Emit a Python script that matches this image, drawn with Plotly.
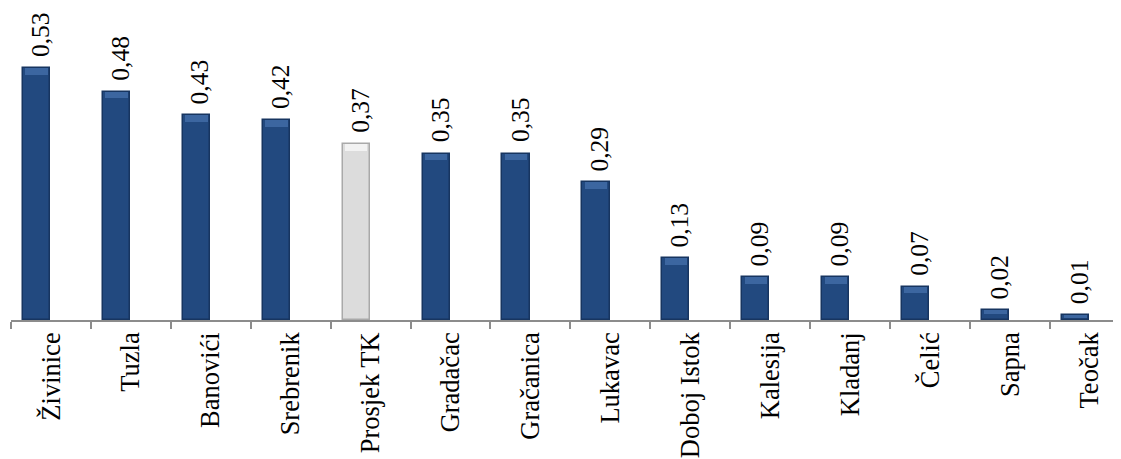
import plotly.graph_objects as go

categories = ["Živinice", "Tuzla", "Banovići", "Srebrenik", "Prosjek TK", "Gradačac",
              "Gračanica", "Lukavac", "Doboj Istok", "Kalesija", "Kladanj", "Čelić",
              "Sapna", "Teočak"]
values = [0.53, 0.48, 0.43, 0.42, 0.37, 0.35, 0.35, 0.29, 0.13, 0.09, 0.09, 0.07, 0.02, 0.01]
value_labels = ["0,53", "0,48", "0,43", "0,42", "0,37", "0,35", "0,35", "0,29", "0,13",
                "0,09", "0,09", "0,07", "0,02", "0,01"]
highlight = "Prosjek TK"

BLUE = "#22497F"
BLUE_EDGE = "#173560"
BLUE_TOP = "#3C66A0"
GRAY = "#DCDCDC"
GRAY_EDGE = "#A9A9A9"
GRAY_TOP = "#F2F2F2"
FONT = "Liberation Serif"

colors = [GRAY if c == highlight else BLUE for c in categories]
edges = [GRAY_EDGE if c == highlight else BLUE_EDGE for c in categories]
tops = [GRAY_TOP if c == highlight else BLUE_TOP for c in categories]

OFFSET = -0.35
WIDTH = 0.34
BEVEL = 0.014  # depth of the lighter top bevel, in data units

fig = go.Figure()
fig.add_trace(go.Bar(
    x=categories, y=values,
    offset=OFFSET, width=WIDTH,
    marker=dict(color=colors, line=dict(color=edges, width=1.5)),
    hoverinfo="skip",
))
# lighter top bevel drawn on top of each bar
bevel_h = [min(BEVEL, v * 0.4) for v in values]
fig.add_trace(go.Bar(
    x=categories, y=bevel_h, base=[v - h for v, h in zip(values, bevel_h)],
    offset=OFFSET + 0.03, width=WIDTH - 0.06,
    marker=dict(color=tops, line=dict(width=0)),
    hoverinfo="skip",
))

for i, (v, t) in enumerate(zip(values, value_labels)):
    fig.add_annotation(
        x=i + OFFSET + WIDTH / 2, y=v, text=t, showarrow=False,
        textangle=-90, xanchor="center", yanchor="bottom",
        xshift=4, yshift=9,
        font=dict(family=FONT, size=25.5, color="#000000"),
    )

fig.update_layout(
    width=1113, height=451,
    margin=dict(l=3, r=0, t=0, b=139, autoexpand=False),
    paper_bgcolor="white", plot_bgcolor="white",
    showlegend=False,
    bargap=0, barmode="overlay",
    font=dict(family=FONT),
    xaxis=dict(
        type="category", categoryorder="array", categoryarray=categories,
        range=[-0.5, 13.39], tickangle=-90, tickson="boundaries",
        showline=True, linecolor="#8C8C8C", linewidth=1.5,
        ticks="outside", ticklen=7, tickwidth=1.5, tickcolor="#8C8C8C",
        showgrid=False, zeroline=False, automargin=False,
        tickfont=dict(family=FONT, size=26.5, color="#000000"),
    ),
    yaxis=dict(range=[0, 0.656], visible=False, showgrid=False, zeroline=False,
               automargin=False),
)

fig.write_html("out.html")
